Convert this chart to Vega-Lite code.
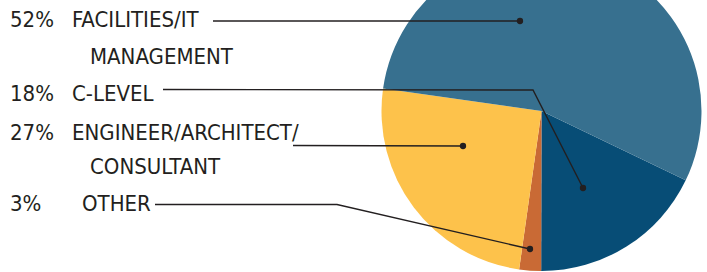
{
  "$schema": "https://vega.github.io/schema/vega-lite/v6.json",
  "width": 707,
  "height": 272,
  "autosize": "none",
  "padding": 0,
  "background": "white",
  "config": {"view": {"stroke": null}},
  "datasets": {
    "slices": [
      {"role": "C-Level", "share": 17.9, "seq": 1},
      {"role": "Other", "share": 2.2, "seq": 2},
      {"role": "Engineer/Architect/Consultant", "share": 25.0, "seq": 3},
      {"role": "Facilities/IT Management", "share": 54.9, "seq": 4}
    ],
    "labels": [
      {"text": "52%", "lx": 10, "ly": 20},
      {"text": "FACILITIES/IT", "lx": 72, "ly": 20},
      {"text": "MANAGEMENT", "lx": 90, "ly": 56.5},
      {"text": "18%", "lx": 10, "ly": 93.5},
      {"text": "C-LEVEL", "lx": 72, "ly": 93.5},
      {"text": "27%", "lx": 10, "ly": 132.5},
      {"text": "ENGINEER/ARCHITECT/", "lx": 72, "ly": 132.5},
      {"text": "CONSULTANT", "lx": 90, "ly": 166.5},
      {"text": "3%", "lx": 10, "ly": 204},
      {"text": "OTHER", "lx": 82, "ly": 204}
    ],
    "leaders": [
      {"role": "Facilities", "k": 0, "lx": 213, "ly": 21},
      {"role": "Facilities", "k": 1, "lx": 520, "ly": 21},
      {"role": "C-Level", "k": 0, "lx": 163, "ly": 89.5},
      {"role": "C-Level", "k": 1, "lx": 533, "ly": 90},
      {"role": "C-Level", "k": 2, "lx": 583, "ly": 188},
      {"role": "Engineer", "k": 0, "lx": 293, "ly": 145.5},
      {"role": "Engineer", "k": 1, "lx": 463, "ly": 146},
      {"role": "Other", "k": 0, "lx": 155, "ly": 204.5},
      {"role": "Other", "k": 1, "lx": 337, "ly": 204.5},
      {"role": "Other", "k": 2, "lx": 530, "ly": 249}
    ],
    "dots": [
      {"role": "Facilities", "lx": 520, "ly": 21},
      {"role": "C-Level", "lx": 583, "ly": 188},
      {"role": "Engineer", "lx": 463, "ly": 146},
      {"role": "Other", "lx": 530, "ly": 249}
    ]
  },
  "layer": [
    {
      "data": {"name": "slices"},
      "mark": {"type": "arc", "outerRadius": 160, "clip": true},
      "encoding": {
        "x": {"datum": 541.5, "type": "quantitative", "scale": {"domain": [0, 707], "nice": false, "zero": false}, "axis": null},
        "y": {"datum": 111, "type": "quantitative", "scale": {"domain": [0, 272], "nice": false, "zero": false, "reverse": true}, "axis": null},
        "theta": {"field": "share", "type": "quantitative", "stack": true, "scale": {"range": [2.019, 8.3022]}},
        "order": {"field": "seq", "type": "quantitative"},
        "color": {
          "field": "role",
          "type": "nominal",
          "legend": null,
          "scale": {
            "domain": ["C-Level", "Other", "Engineer/Architect/Consultant", "Facilities/IT Management"],
            "range": ["#074d76", "#c96a35", "#fdc24b", "#37708f"]
          }
        }
      }
    },
    {
      "data": {"name": "leaders"},
      "mark": {"type": "line", "color": "#231f20", "strokeWidth": 1.4},
      "encoding": {
        "x": {"field": "lx", "type": "quantitative", "axis": null},
        "y": {"field": "ly", "type": "quantitative", "axis": null},
        "detail": {"field": "role"},
        "order": {"field": "k", "type": "quantitative"}
      }
    },
    {
      "data": {"name": "dots"},
      "mark": {"type": "circle", "color": "#231f20", "opacity": 1, "size": 40},
      "encoding": {
        "x": {"field": "lx", "type": "quantitative", "axis": null},
        "y": {"field": "ly", "type": "quantitative", "axis": null}
      }
    },
    {
      "data": {"name": "labels"},
      "mark": {"type": "text", "align": "left", "baseline": "middle", "font": "DejaVu Sans Condensed", "fontSize": 22, "color": "#231f20"},
      "encoding": {
        "x": {"field": "lx", "type": "quantitative", "axis": null},
        "y": {"field": "ly", "type": "quantitative", "axis": null},
        "text": {"field": "text"}
      }
    }
  ]
}
